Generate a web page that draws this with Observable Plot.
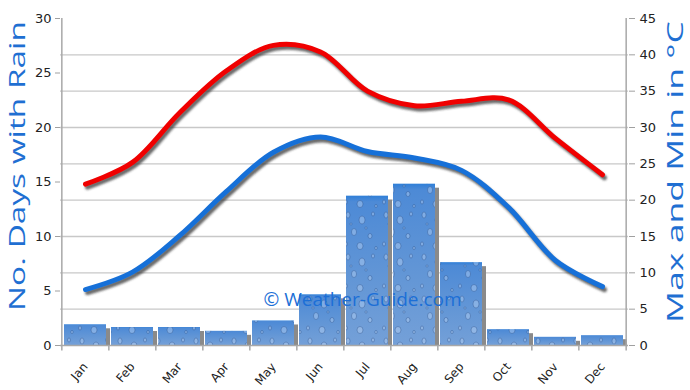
<!DOCTYPE html>
<html>
<head>
<meta charset="utf-8">
<script src="https://cdn.jsdelivr.net/npm/d3@7"></script>
<script src="https://cdn.jsdelivr.net/npm/@observablehq/plot@0.6"></script>
<style>
  body { margin: 0; background: #fff; }
</style>
</head>
<body>
<div id="chart"></div>
<script>
const months = ["Jan","Feb","Mar","Apr","May","Jun","Jul","Aug","Sep","Oct","Nov","Dec"];
const rainDays = [1.9, 1.65, 1.65, 1.3, 2.25, 4.65, 13.7, 14.8, 7.6, 1.45, 0.75, 0.9];
const maxTemp = [22.2, 25.2, 32.0, 37.8, 41.3, 40.4, 35.0, 33.0, 33.6, 33.8, 28.5, 23.5];
const minTemp = [7.7, 10.1, 15.1, 21.2, 26.6, 28.7, 26.7, 25.8, 24.1, 19.0, 11.7, 8.1];
const leftTicks = [0, 5, 10, 15, 20, 25, 30];
const rightTicks = [0, 5, 10, 15, 20, 25, 30, 35, 40, 45];
const gridTemps = [5, 10, 15, 20, 25, 30, 35, 40];
const leftTitle = "No. Days with Rain";
const rightTitle = "Max and Min in °C";
const watermark = "© Weather-Guide.com";

const W = 690, H = 390, mL = 60, mR = 62, mT = 18, mB = 45;
const step = (W - mL - mR) / months.length;
const toY = t => t * 30 / 45;

const rain = months.map((m, i) => ({month: m, v: rainDays[i]}));
const temps = months.map((m, i) => ({month: m, max: maxTemp[i], min: minTemp[i]}));

const blue = "#1f6fd2";

const chart = Plot.plot({
  width: W, height: H,
  marginLeft: mL, marginRight: mR, marginTop: mT, marginBottom: mB,
  style: {fontFamily: "DejaVu Sans", fontSize: "12px", background: "#fff", color: "#222"},
  x: {domain: months, paddingInner: 0.1, paddingOuter: 0.05, label: null},
  y: {domain: [0, 30], label: null},
  marks: [
    Plot.gridY(gridTemps.map(toY), {stroke: "#c8c8c8", strokeOpacity: 1, strokeWidth: 1.3}),
    // bar shadows
    Plot.barY(rain, {x: "month", y: "v", fill: "#8a8a8a", dx: 4, insetTop: 4}),
    Plot.barY(rain, {x: "month", y: "v", fill: "url(#barGrad)"}),
    Plot.barY(rain, {x: "month", y: "v", fill: "url(#drops)"}),
    // axes lines
    Plot.ruleY([0], {stroke: "#a8a8a8", strokeWidth: 1.5}),
    Plot.ruleX(["Jan"], {x: d => d, dx: -step / 2, stroke: "#a8a8a8", strokeWidth: 1.5}),
    Plot.ruleX(["Dec"], {x: d => d, dx: step / 2, stroke: "#a8a8a8", strokeWidth: 1.5}),
    Plot.ruleX(months, {x: d => d, dx: -step / 2, y1: 0, y2: -0.5, stroke: "#a8a8a8", strokeWidth: 1.5}),
    Plot.ruleX(["Dec"], {x: d => d, dx: step / 2, y1: 0, y2: -0.5, stroke: "#a8a8a8", strokeWidth: 1.5}),
    // line shadows
    Plot.line(temps, {x: "month", y: d => toY(d.max), curve: "catmull-rom", stroke: "#3a3a3a", strokeWidth: 5, strokeOpacity: 0.75, dx: 2, dy: 3}),
    Plot.line(temps, {x: "month", y: d => toY(d.min), curve: "catmull-rom", stroke: "#3a3a3a", strokeWidth: 5, strokeOpacity: 0.75, dx: 2, dy: 3}),
    Plot.line(temps, {x: "month", y: d => toY(d.max), curve: "catmull-rom", stroke: "#f00000", strokeWidth: 5}),
    Plot.line(temps, {x: "month", y: d => toY(d.min), curve: "catmull-rom", stroke: "#1670d8", strokeWidth: 5}),
    // axes
    Plot.axisY(leftTicks, {anchor: "left", tickSize: 5, tickPadding: 4, stroke: "#a0a0a0", fill: "#222", fontSize: 13, label: null}),
    Plot.axisY(rightTicks.map(toY), {anchor: "right", tickSize: 6, tickPadding: 5, stroke: "#a0a0a0", fill: "#222", fontSize: 13, label: null,
      tickFormat: d => String(Math.round(d * 1.5))}),
    Plot.axisX({tickSize: 0, tickRotate: -50, tickPadding: 19, fill: "#222", fontSize: 12, label: null}),
    // titles
    Plot.text([leftTitle], {frameAnchor: "left", textAnchor: "middle", rotate: -90, dx: -43, dy: -16, fontSize: 22, fill: blue, fontFamily: "Open Sans"}),
    Plot.text([rightTitle], {frameAnchor: "right", textAnchor: "middle", rotate: -90, dx: 47, dy: -10, fontSize: 22, fill: blue, fontFamily: "Open Sans"}),
    Plot.text([watermark], {frameAnchor: "bottom", dx: 18, dy: -40, fontSize: 19, fill: "#1c6fd6", fontFamily: "Open Sans"})
  ]
});

const svg = d3.select(chart);
const defs = svg.insert("defs", ":first-child");
const grad = defs.append("linearGradient").attr("id", "barGrad").attr("x1", 0).attr("y1", 0).attr("x2", 0).attr("y2", 1);
grad.append("stop").attr("offset", "0%").attr("stop-color", "#2f7fd8");
grad.append("stop").attr("offset", "4%").attr("stop-color", "#4d8ad6");
grad.append("stop").attr("offset", "60%").attr("stop-color", "#6497d6");
grad.append("stop").attr("offset", "100%").attr("stop-color", "#74a0d8");
const pat = defs.append("pattern").attr("id", "drops").attr("patternUnits", "userSpaceOnUse")
  .attr("width", 38).attr("height", 42);
const dropSpots = [[6,5,2,3],[20,10,3,4],[31,4,1.5,2],[12,22,2.5,3.5],[28,26,2,2.5],[4,34,1.5,2],[18,36,3,3.5],[34,38,1.2,1.6],[24,18,1,1.3],[9,14,1,1.2]];
dropSpots.forEach(([cx, cy, rx, ry]) => {
  pat.append("ellipse").attr("cx", cx).attr("cy", cy).attr("rx", rx).attr("ry", ry)
    .attr("fill", "rgba(210,230,255,0.35)").attr("stroke", "rgba(30,70,130,0.45)").attr("stroke-width", 0.8);
});
const filt = defs.append("filter").attr("id", "blur").attr("x", "-5%").attr("y", "-5%").attr("width", "110%").attr("height", "110%");
filt.append("feGaussianBlur").attr("stdDeviation", 1.2);
chart.querySelectorAll('[stroke="#3a3a3a"]').forEach(el => el.setAttribute("filter", "url(#blur)"));

// fit axis titles to the reference's lengths
chart.querySelectorAll("text").forEach(t => {
  if (t.textContent === leftTitle) { t.setAttribute("textLength", 290); t.setAttribute("lengthAdjust", "spacingAndGlyphs"); }
  if (t.textContent === rightTitle) { t.setAttribute("textLength", 302); t.setAttribute("lengthAdjust", "spacingAndGlyphs"); }
});

document.getElementById("chart").appendChild(chart);
</script>
</body>
</html>
